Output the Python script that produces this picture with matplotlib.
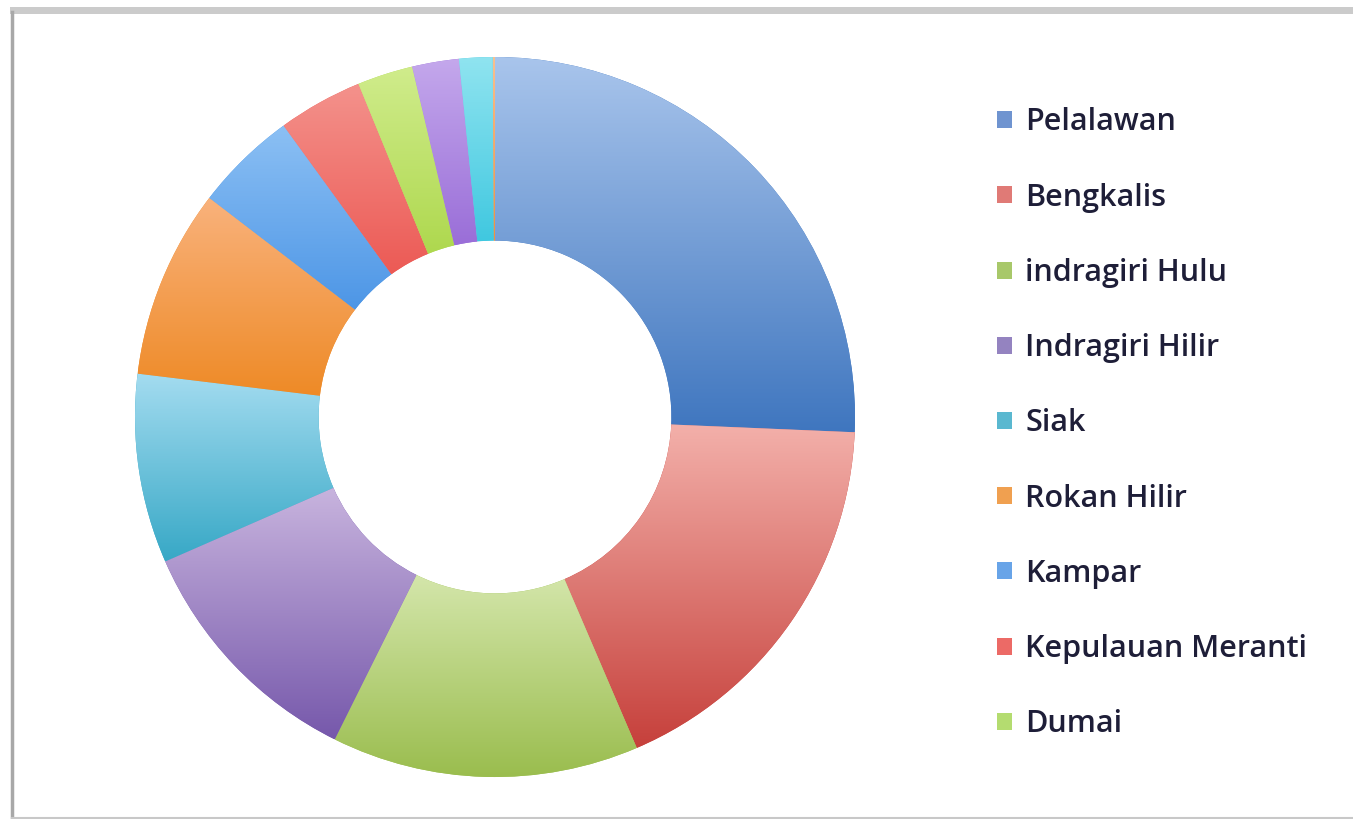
import numpy as np
import matplotlib
matplotlib.use("Agg")
import matplotlib.pyplot as plt
from matplotlib.patches import Rectangle, Patch
from matplotlib.lines import Line2D
from matplotlib.colors import to_rgb, LinearSegmentedColormap

# ---- data ----
regions = ["Pelalawan", "Bengkalis", "indragiri Hulu", "Indragiri Hilir", "Siak",
           "Rokan Hilir", "Kampar", "Kepulauan Meranti", "Dumai",
           "Kuantan Singingi", "Rokan Hulu", "Pekanbaru"]
shares = [25.7, 17.9, 13.8, 11.1, 8.5, 8.5, 4.6, 3.8, 2.5, 2.1, 1.5, 0.1]
legend_count = 9

# ---- style ----
top_colors = ["#a9c5ec", "#f3b0aa", "#d4e6ab", "#c8b4de", "#a4dcf0", "#f9b27c",
              "#8cc0f4", "#f4928c", "#d0ec8c", "#c4a8ec", "#90e4f0", "#f8c090"]
bot_colors = ["#3f76bf", "#c6403b", "#9abd4e", "#7658ab", "#37a8c6", "#ee8a26",
              "#4d96e6", "#ec5a55", "#aed84e", "#9a6ed8", "#40c8e0", "#f09040"]
legend_colors = ["#6f94d0", "#e07a76", "#a8c86a", "#9483c0", "#5ab8d0", "#f0a050",
                 "#68a4e8", "#ec6a66", "#b4dc70"]

W, H = 1353, 819
fig = plt.figure(figsize=(W / 100, H / 100), dpi=100)
fig.patch.set_facecolor("white")

# frame of the original screenshot (top bar, left and bottom edges)
fig.patches.append(Rectangle((10 / W, (H - 14) / H), (W - 10) / W, 7 / H, transform=fig.transFigure,
                             facecolor="#cbcbcb", edgecolor="none"))
fig.lines.append(Line2D([12 / W, 12 / W], [1.5 / H, (H - 12) / H], transform=fig.transFigure,
                        color="#a8a8a8", linewidth=2.5))
fig.lines.append(Line2D([12 / W, 1.0], [1.5 / H, 1.5 / H], transform=fig.transFigure,
                        color="#c8c8c8", linewidth=1.5))

cx, cy, R = 495, 417, 360
ax = fig.add_axes([(cx - R) / W, (H - cy - R) / H, 2 * R / W, 2 * R / H])
ax.set_aspect("equal")
ax.axis("off")

wedges, _ = ax.pie(shares, radius=1, startangle=90, counterclock=False,
                   colors=bot_colors, wedgeprops=dict(width=0.51, edgecolor="none"))

for w, ct, cb in zip(wedges, top_colors, bot_colors):
    ext = w.get_path().get_extents()
    cmap = LinearSegmentedColormap.from_list("g", [to_rgb(cb), to_rgb(ct)])
    grad = np.linspace(0, 1, 256).reshape(-1, 1)
    im = ax.imshow(grad, cmap=cmap, origin="lower", aspect="auto",
                   extent=[ext.x0, ext.x1, ext.y0, ext.y1], interpolation="bilinear", zorder=2)
    im.set_clip_path(w)

ax.set_xlim(-1, 1)
ax.set_ylim(-1, 1)

handles = [Patch(facecolor=c, edgecolor="none") for c in legend_colors]
leg = fig.legend(handles, regions[:legend_count], loc="upper left",
                 bbox_to_anchor=(997 / W, (H - 107.5) / H), bbox_transform=fig.transFigure,
                 frameon=False, prop=dict(family="Open Sans", size=22, weight="semibold"),
                 handlelength=0.48, handleheight=0.48, handletextpad=0.45,
                 labelspacing=1.48, borderaxespad=0, borderpad=0)
for t in leg.get_texts():
    t.set_color("#1e1e38")

fig.savefig("out.png", dpi=100, facecolor="white")
